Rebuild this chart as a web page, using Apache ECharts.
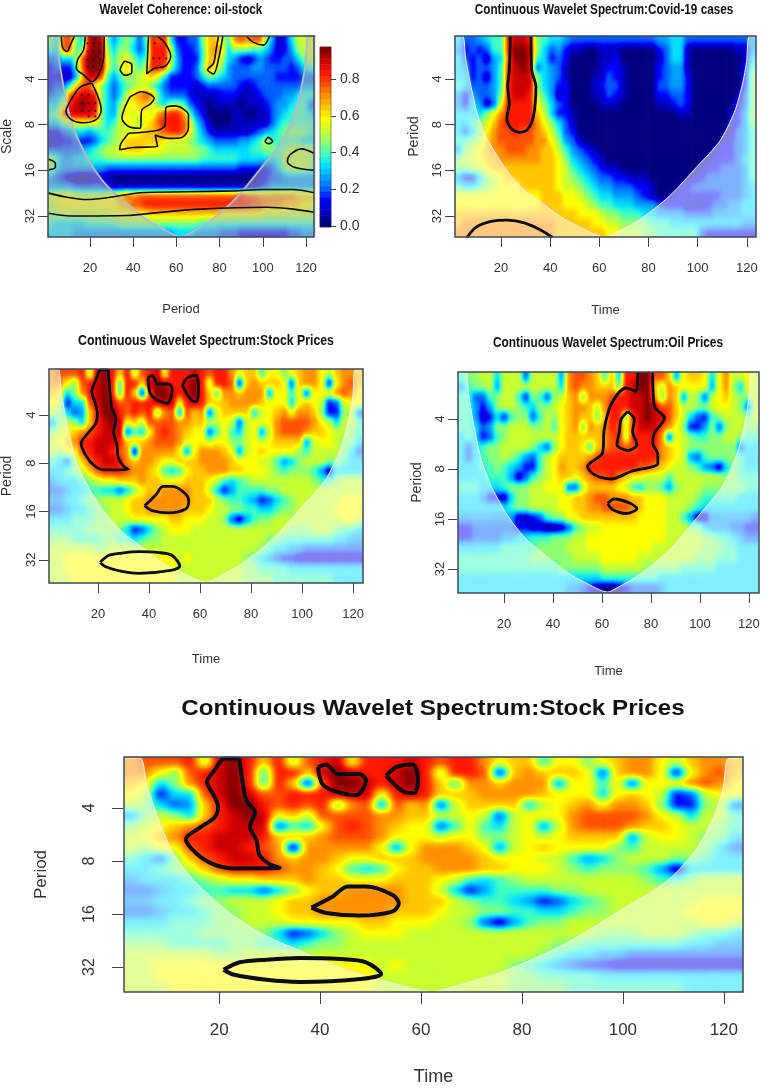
<!DOCTYPE html>
<html><head><meta charset="utf-8">
<style>html,body{margin:0;padding:0;background:#fff}#c{width:762px;height:1089px}</style>
<script src="https://cdn.jsdelivr.net/npm/echarts@6/dist/echarts.min.js"></script>
</head><body><div id="c"></div>
<svg width="0" height="0" style="position:absolute"><defs id="defs"></defs></svg>
<script>
// Heat levels: 0 (dark blue) .. f (dark red); 42 columns x 22 rows
const coherenceRows = [
"75cc75 efe646 7636dc d52233 7aa86b cbcc74 125888",
"65cc67 eff757 7535dd d83223 6aba57 776653 124788",
"34557c fff868 9756dd d84222 6aa854 212432 233578",
"23226c fff868 a868dd c74223 7b9743 334433 332356",
"22114a eec646 8789a8 522223 576543 333333 222233",
"2336ac c97535 678865 322221 233333 212333 333344",
"345cde ed7535 8abcb6 433321 111222 111233 344566",
"558def ee7547 99aa96 577632 101111 011123 445663",
"67ceee ed7548 98998b cddb63 200001 100113 456665",
"557899 997568 9979ac dddc95 310001 111113 566666",
"223455 456678 889aab cddc96 421111 112345 677776",
"112232 235678 aaaaaa 988876 543333 445686 666655",
"333334 567889 aaa999 888887 765555 556677 678888",
"864455 666777 777777 777777 666666 555555 688887",
"754444 444333 333333 333333 333333 222223 578887",
"432100 011100 000000 000000 000000 000123 344444",
"444433 333211 111111 111111 111111 111234 444444",
"899988 88899a cbcccc cccccc cccccc dccbbb bbbaaa",
"889999 99999a accddd dddddd dddddd ddccbb baaa99",
"788888 888899 9999aa aaaaaa aaa999 999988 888888",
"655555 666667 777777 777777 666666 666666 666666",
"555544 444444 444444 445554 444333 222222 223344"];
const covidRows = [
"533456 6deed7 655433 333333 333344 553333 333334",
"423236 6dffe7 534211 001110 000023 551000 000114",
"532314 5cffe6 523200 001120 000013 551000 000015",
"542334 6defe3 543100 001221 000023 441000 000026",
"552314 6deee7 543100 011321 000023 442000 000027",
"653334 6deee7 542200 012331 000033 442000 000027",
"424334 7deed8 641200 011321 000022 332000 000137",
"425413 9dddd9 753200 001110 000011 232000 000237",
"555579 bdddda 852210 000000 000000 011000 001247",
"55678a cddddb 975310 000000 000000 000000 001247",
"53579b ccdccb a86320 000000 000000 000000 001346",
"6678ab cccccb b97431 000000 000000 000000 012346",
"4789ab bcccbb aa8643 210000 000000 000000 122346",
"7889aa bbbbbb aa9754 321000 000000 000001 222356",
"77889a aaaaaa aa9865 432110 000000 000012 233346",
"422578 9aaaaa aa9876 543322 111000 000123 333346",
"655678 999aaa aa9887 654433 322100 012333 333345",
"999999 999999 aaa998 765544 432100 122222 233345",
"999999 999999 aaa999 876655 544432 221112 334455",
"aaaaaa aaaaaa aaaaa9 998776 665544 443333 444455",
"abbbbb bbbbbb bbaaaa a99887 777666 555555 555544",
"bbbbbb bbbbbb bbaaaa aaa998 887766 666632 222222"];
const stockRows = [
"bcccd8 efdad8 cde9dd dedcdd b9aa69 979abb 98abba",
"bb97cd efd6dd aefedd efd8dd c2abaa a93abb 929bca",
"a957bd efd6da 2cffed efda6b babbb4 996939 99bcb9",
"98255c efeccd ddeee9 dedaaa bbbba9 9959a9 823899",
"87534a dffdcd cd7bc4 cab38a aaa589 ab9bba 722783",
"47875a defe9a 8ccccb baa889 838999 bccccb 985886",
"789abc deee36 59cdcb a99369 658948 bcccba a98876",
"89abdd eeedaa abcccb 999899 778989 aaaa48 998775",
"8799cd eedcb1 bbbbb9 49bbba 9489a9 999768 888753",
"6537ac deedba bba99a aabbbb a99988 645788 877655",
"55678a cdddcb ba9656 9aabbb aa9998 767776 415555",
"455567 899aaa baa999 aaa986 567888 888887 667888",
"334556 655357 9aabbb baa852 466667 788888 888888",
"445567 78889a abbbbb baaa87 665423 567888 888999",
"334556 77889a abbbbb aaa988 776655 677888 889999",
"555666 778889 9999aa 999887 314677 888888 888998",
"666667 777752 357899 988888 888888 887778 887665",
"777666 677665 677888 888888 888887 766666 665544",
"888888 778888 888888 888888 888876 554433 333333",
"889999 999999 999998 988888 887654 322111 111111",
"889999 999999 999998 888888 887766 665555 555555",
"888999 999999 999998 888888 887777 666666 665555"];
const oilRows = [
"677885 888388 884bcc ba6a5d dffcca 49aa95 9b8898",
"467784 888888 885bcb baaa7d effa8b a99994 9b7598",
"663367 886276 378ab7 bbbcdd eefb7b a48738 9a8778",
"664247 887657 789abb a8bddd eefecc a88778 998738",
"664125 267736 879aba a7add7 defeec a85326 788878",
"665347 788877 869ab7 babdc9 ceeecb 972247 378877",
"565236 788888 889aaa aabcd8 ddddb3 987667 788766",
"535677 888875 379aa9 6abccc cdddba 987777 777355",
"535677 876436 89aaaa bcdddd ddddba 984367 777655",
"555667 654226 89baab dddddd dccba9 887643 157655",
"555566 641367 89aa9a bccdba 998886 888888 877666",
"666555 677788 999338 aaaa98 657764 788877 777766",
"555422 157788 8899aa bccbbb aa9998 888766 666555",
"555555 567788 8899aa bbcccc ba9998 887655 555555",
"444444 441123 67799a aaaaaa a99998 864114 444443",
"223333 332211 001367 889999 999998 887754 443322",
"223333 445566 677788 999999 999998 888877 665433",
"555555 666667 777888 999999 999888 888877 766555",
"666666 666677 777788 889999 988888 888777 666555",
"666666 666666 667777 778888 887777 766666 555555",
"555555 555555 555555 556666 666655 555555 555555",
"555555 555555 555443 210012 333345 555555 555555"];
const colorbarLevels = [15,14.5,14,13.5,13,12.5,12,11.5,11,10.5,10,9.5,9,8.5,8,7.5,7,6.5,6,5.5,5,4.5,4,3.5,3,2.5,2,1.5,1,0.5,0];
const jetColors = ['#00007f','#0000c0','#0000ff','#0060ff','#00a0ff','#00e0ff','#40ffc0','#90ff70','#c8ff30','#ffff00','#ffc800','#ff9000','#ff5000','#ff1800','#cc0000','#800000'];
const xTickValues = [20,40,60,80,100,120];
const yTickValues = [2,3,4,5];
const yTickLabels = ['4','8','16','32'];
const colorbarTicks = [0,0.2,0.4,0.6,0.8];
// cone of influence: [time, log2 period]
const coneLine = [[0.5,1.06],[4.4,1.06],[5.6,1.54],[7.6,2.11],[10.6,2.8],[14.9,3.36],[22.1,3.98],[29.4,4.42],[37.3,4.74],[45.2,5.05],[53.1,5.27],[62.3,5.46],[63.8,5.44],[76.4,5.08],[88.4,4.57],[99.7,3.92],[109,3.36],[114.9,2.73],[118.2,2.11],[119.9,1.61],[120.9,1.07],[124.5,1.06]];
// significance contours: [time, log2 period]
const coherenceContours = [
 [[6.7,1.07],[7.5,1.33],[9.4,1.4],[10.9,1.26],[12.8,1.07]],
 [[17.8,1.07],[17.1,1.36],[14.3,1.58],[13.7,1.77],[17.1,1.91],[20.9,2.06],[24,1.91],[26.3,1.55],[26.6,1.07]],
 [[20.9,2.09],[15.5,2.18],[12.1,2.39],[8.9,2.72],[11.7,2.9],[17.1,2.96],[23.2,2.88],[25.2,2.68],[24,2.42],[20.9,2.09]],
 [[35.9,1.61],[39.4,1.69],[39.4,1.86],[36.3,1.92],[34,1.8],[35.9,1.61]],
 [[47.1,1.07],[46.3,1.89],[49.7,1.77],[54.8,1.72],[57.4,1.51],[54.8,1.22],[51.3,1.07]],
 [[81.5,1.07],[79.5,1.57],[77.2,1.89],[74.4,1.8],[77.2,1.66],[78.4,1.36],[79.5,1.07]],
 [[92.6,1.07],[95.7,1.2],[100.3,1.26],[103.1,1.07]],
 [[38.6,2.39],[44,2.28],[49.7,2.42],[47.9,2.55],[44,2.68],[43.3,3.08],[37.9,3.04],[34.8,2.86],[36.3,2.61],[38.6,2.39]],
 [[37.9,3.19],[51,3.13],[54.8,3.01],[55.1,2.64],[59.4,2.59],[65.6,2.79],[65.6,3.08],[62.5,3.28],[56.4,3.3],[50.2,3.23],[51.3,3.48],[40.2,3.5],[33.7,3.55],[34.3,3.42],[37.9,3.19]],
 [[101,3.37],[102.6,3.28],[104.6,3.37],[102.6,3.42],[101,3.37]],
 [[0.9,3.76],[4,3.85],[4,3.94],[0.9,3.99]],
 [[123.7,3.63],[118,3.53],[112.6,3.66],[111.4,3.81],[114.9,3.94],[123.7,4]],
 [[0.9,4.5],[9.4,4.59],[18.6,4.64],[30.9,4.58],[43.3,4.49],[64.8,4.47],[86.4,4.45],[100.3,4.42],[114.1,4.42],[123.7,4.49]],
 [[0.9,4.94],[10.9,5],[37.1,4.99],[52.5,4.92],[71,4.85],[101.8,4.81],[114.1,4.85],[123.7,4.92]]];
const covidContours = [
 [[23.8,1.07],[23.4,1.8],[22.7,2.17],[23.4,2.53],[22.4,2.86],[24.1,3.08],[27.5,3.17],[30.9,3.1],[33.3,2.79],[34.2,2.17],[32.5,1.8],[32.2,1.07]],
 [[6.2,5.47],[9.8,5.25],[15.9,5.12],[22.7,5.09],[29.5,5.15],[36.3,5.31],[41,5.47]]];
const stockContours = [
 [[24,1.07],[21.1,1.07],[19.1,1.29],[17.6,1.51],[19.1,1.79],[19.8,1.98],[19.1,2.18],[16.2,2.37],[13.4,2.59],[15.5,2.86],[18.8,3.06],[22.8,3.14],[32,3.13],[30,3.06],[28,2.89],[27.4,2.61],[26.1,2.36],[27.1,2.08],[25.4,1.86],[24.4,1.36],[24,1.07]],
 [[39.6,1.23],[41.2,1.18],[43.5,1.36],[47.8,1.36],[49.1,1.48],[47.2,1.76],[42.5,1.67],[40.4,1.54],[39.6,1.23]],
 [[53.1,1.39],[55.1,1.23],[58.4,1.18],[59.4,1.48],[58.7,1.72],[56.7,1.7],[53.1,1.39]],
 [[38.3,3.88],[42.5,3.67],[45.5,3.48],[49.1,3.48],[54.4,3.64],[55.6,3.8],[54.4,3.95],[47.8,4.03],[41.2,3.98],[38.3,3.88]],
 [[20.9,5.05],[24.1,4.91],[29.4,4.86],[36,4.83],[43.9,4.85],[49.1,4.91],[52.1,5.13],[48.5,5.22],[36,5.28],[29.4,5.24],[22.8,5.14],[20.9,5.05]]];
const oilContours = [
 [[74.6,1.07],[73.9,1.45],[69.8,1.38],[63.7,1.71],[60.9,2.21],[60.2,2.68],[54.1,2.95],[56.8,3.11],[63.7,3.2],[71.8,3.05],[82.8,2.89],[82.8,2.71],[80.7,2.48],[81.4,2.28],[85.5,1.98],[81.4,1.75],[80.7,1.07]],
 [[70.5,1.85],[73.2,2.01],[72.5,2.25],[74.3,2.51],[70.5,2.63],[66.1,2.51],[67.1,2.25],[67.8,2.01],[70.5,1.85]],
 [[62.3,3.69],[65,3.6],[71.2,3.68],[74.3,3.79],[69.8,3.89],[64.3,3.81],[62.3,3.69]]];
const coherenceDots = [[18.9,1.22],[21.7,1.22],[24.5,1.22],[18.9,1.4],[21.7,1.4],[24.5,1.4],[18.9,1.58],[21.7,1.58],[24.5,1.58],[18.9,1.73],[21.7,1.73],[16.3,2.35],[19.4,2.35],[16.3,2.53],[19.4,2.53],[22.5,2.53],[16.3,2.7],[19.4,2.7],[22.5,2.7],[19.4,2.82],[22.5,2.82],[49.4,1.55],[52.2,1.55],[55.3,1.55],[50,1.22]];

const SANS = '"Liberation Sans",Arial,sans-serif';
const TOP = 2;
const panels = [
 {rows:coherenceRows,contours:coherenceContours,dots:coherenceDots,title:'Wavelet Coherence: oil-stock',titleX:181,titleY:10,xName:'Period',yName:'Scale',rect:[48,36,266,201],xr:[0.6,123.7],yr:[1.06,5.46],lw:1.6,mask:'rgba(185,185,185,0.5)',cone:'#b8b8c8',coneW:1.8,tick:10,tf:13,xm:25,ym:11,xg:66,yg:34,nf:13,yf:13,sx:0.78},
 {rows:covidRows,contours:covidContours,title:'Continuous Wavelet Spectrum:Covid-19 cases',titleX:604,titleY:10,xName:'Time',yName:'Period',rect:[455,36,301,201],xr:[1.3,123.7],yr:[1.06,5.46],lw:2.8,mask:'rgba(255,255,255,0.5)',cone:'#eeeeee',coneW:1,tick:10,tf:13,xm:25,ym:11,xg:67,yg:34,nf:13,yf:13,sx:0.78},
 {rows:stockRows,contours:stockContours,title:'Continuous Wavelet Spectrum:Stock Prices',titleX:206,titleY:341,xName:'Time',yName:'Period',rect:[49,369,314,214],xr:[0.8,123.9],yr:[1.05,5.48],lw:2.8,mask:'rgba(255,255,255,0.5)',cone:'#eeeeee',coneW:1,tick:10,tf:13,xm:25,ym:11,xg:70,yg:35,nf:13,yf:13,sx:0.82},
 {rows:oilRows,contours:oilContours,title:'Continuous Wavelet Spectrum:Oil Prices',titleX:608,titleY:343,xName:'Time',yName:'Period',rect:[458,372,301,221],xr:[1.2,124.1],yr:[1.06,5.48],lw:2.8,mask:'rgba(255,255,255,0.5)',cone:'#eeeeee',coneW:1,tick:10,tf:13,xm:25,ym:11,xg:72,yg:34,nf:13,yf:13,sx:0.79},
 {rows:stockRows,contours:stockContours,title:'Continuous Wavelet Spectrum:Stock Prices',titleX:433,titleY:709,xName:'Time',yName:'Period',rect:[124,757,619,235],xr:[1.15,123.8],yr:[1.04,5.47],lw:4,mask:'rgba(255,255,255,0.5)',cone:'#eeeeee',coneW:1,tick:12,tf:17,xm:30,ym:26,xg:76,yg:74,nf:18,yf:16,big:true,sx:1.1}
];

const grid=[],xAxis=[],yAxis=[],series=[],graphic=[],heatIdx=[];
const colPad=[...Array(44).keys()],rowPad=[...Array(24).keys()];
const AX='#444';
panels.forEach((p,i)=>{
  const [l,t,w,h]=p.rect, bw=w/42, bh=h/22;
  const heatLevel = p.big?1:0;
  // hidden grid one band larger on every side: holds the heat cells, trimmed back to the plot by the clip below
  const hg=grid.length;
  grid.push({left:l-bw,top:t-bh,width:w+2*bw,height:h+2*bh,show:false,outerBoundsMode:'none'});
  const fg=grid.length;
  grid.push({left:l,top:t,width:w,height:h,show:true,borderColor:'#3c4858',borderWidth:1.5,backgroundColor:'transparent',z:10,zlevel:TOP,outerBoundsMode:'none'});
  const xc=xAxis.length, yc=yAxis.length;
  xAxis.push({type:'category',gridIndex:hg,data:colPad,show:false});
  yAxis.push({type:'category',gridIndex:hg,data:rowPad,show:false,inverse:true});
  xAxis.push({type:'value',gridIndex:fg,zlevel:TOP,min:p.xr[0],max:p.xr[1],position:'bottom',splitLine:{show:false},axisLine:{show:false},
    axisTick:{show:true,length:p.tick,customValues:xTickValues,lineStyle:{color:AX,width:1}},
    axisLabel:{customValues:xTickValues,margin:p.xm,color:'#333',fontSize:p.tf,fontFamily:SANS,formatter:v=>String(v)},
    name:p.xName,nameLocation:'middle',nameGap:p.xg,nameTextStyle:{color:'#333',fontSize:p.nf,fontFamily:SANS}});
  yAxis.push({type:'value',gridIndex:fg,zlevel:TOP,min:p.yr[0],max:p.yr[1],inverse:true,position:'left',splitLine:{show:false},axisLine:{show:false},
    axisTick:{show:true,length:p.tick,customValues:yTickValues,lineStyle:{color:AX,width:1}},
    axisLabel:{customValues:yTickValues,rotate:90,margin:p.ym,color:'#333',fontSize:p.yf,fontFamily:SANS,formatter:v=>yTickLabels[yTickValues.indexOf(v)]},
    name:p.yName,nameLocation:'middle',nameGap:p.yg,nameRotate:90,nameTextStyle:{color:'#333',fontSize:p.yf+1,fontFamily:SANS}});
  const m=p.rows.map(r=>r.replace(/\s/g,'').split('').map(ch=>parseInt(ch,16)));
  const cells=[];
  rowPad.forEach(r=>colPad.forEach(c=>{
    const rr=Math.min(21,Math.max(0,r-1)), cc=Math.min(41,Math.max(0,c-1));
    cells.push([c,r,m[rr][cc]]);
  }));
  heatIdx.push(series.length);
  series.push({type:'heatmap',xAxisIndex:xc,yAxisIndex:yc,data:cells,z:2,zlevel:heatLevel,silent:true,progressive:0});
  series.push({type:'line',xAxisIndex:xc+1,yAxisIndex:yc+1,data:coneLine,symbol:'none',smooth:0.25,z:3,zlevel:TOP,silent:true,
    lineStyle:{color:p.cone,width:p.coneW},areaStyle:{color:p.mask,origin:'end',opacity:1}});
  p.contours.forEach(ct=>series.push({type:'line',xAxisIndex:xc+1,yAxisIndex:yc+1,data:ct,symbol:'none',smooth:0.3,z:4,zlevel:TOP,silent:true,lineStyle:{color:'#0c0c14',width:p.lw}}));
  if(p.dots) series.push({type:'scatter',xAxisIndex:xc+1,yAxisIndex:yc+1,data:p.dots,symbolSize:2.2,z:5,zlevel:TOP,silent:true,itemStyle:{color:'#111'}});
  graphic.push({type:'text',x:p.titleX,y:p.titleY,scaleX:p.sx,zlevel:TOP,silent:true,style:{text:p.title,x:0,y:0,align:'center',verticalAlign:'middle',textAlign:'center',textVerticalAlign:'middle',fill:'#111',font:`bold ${p.big?22:15}px ${SANS}`}});
});
// colour bar beside the first panel
const cbG=grid.length, cbX=xAxis.length, cbY=yAxis.length;
grid.push({left:320,top:47,width:11,height:180,show:true,borderColor:'#333',borderWidth:0.5,backgroundColor:'transparent',z:10,zlevel:TOP,outerBoundsMode:'none'});
xAxis.push({type:'category',gridIndex:cbG,data:[0],show:false});
yAxis.push({type:'category',gridIndex:cbG,data:colorbarLevels.map((_,i)=>i),show:false,inverse:true});
yAxis.push({type:'value',gridIndex:cbG,zlevel:TOP,min:-0.005,max:0.974,position:'right',splitLine:{show:false},axisLine:{show:false},
  axisTick:{show:true,length:5,customValues:colorbarTicks,lineStyle:{color:AX,width:1}},
  axisLabel:{customValues:colorbarTicks,margin:9,color:'#333',fontSize:14,fontFamily:SANS,formatter:v=>v.toFixed(1)}});
const cbIdx=series.length;
series.push({type:'heatmap',xAxisIndex:cbX,yAxisIndex:cbY,data:colorbarLevels.map((v,i)=>[0,i,v]),z:2,zlevel:TOP,silent:true});
series.push({type:'line',xAxisIndex:cbX,yAxisIndex:cbY+1,data:[],symbol:'none',zlevel:TOP});

// Heat layers are drawn as grey levels, smoothed in level space, then coloured through the jet table
const channel=(k)=>jetColors.map(c=>(parseInt(c.substr(1+2*k,2),16)/255).toFixed(3)).join(' ');
const table=`<feComponentTransfer><feFuncR type="table" tableValues="${channel(0)}"/><feFuncG type="table" tableValues="${channel(1)}"/><feFuncB type="table" tableValues="${channel(2)}"/></feComponentTransfer>`;
const mk=(id,sd)=>`<filter id="${id}" x="0" y="0" width="100%" height="100%" color-interpolation-filters="sRGB"><feGaussianBlur stdDeviation="${sd}" edgeMode="duplicate"/>${table}</filter>`;
document.getElementById('defs').innerHTML=mk('smallHeat','2.2 3')+mk('bigHeat','5 3.6');
const clip=ps=>ps.map(p=>`M${p.rect[0]} ${p.rect[1]}h${p.rect[2]}v${p.rect[3]}h${-p.rect[2]}Z`).join('');
const css=document.createElement('style');
css.textContent=`canvas[data-zr-dom-id="zr_0"]{filter:url(#smallHeat);clip-path:path('${clip(panels.slice(0,4))}')}
canvas[data-zr-dom-id="zr_1"]{filter:url(#bigHeat);clip-path:path('${clip(panels.slice(4))}')}`;
document.head.appendChild(css);

const chart=echarts.init(document.getElementById('c'),null,{renderer:'canvas',devicePixelRatio:1});
chart.setOption({animation:false,title:[],grid,xAxis,yAxis,series,graphic,tooltip:{show:false},
  visualMap:[
   {type:'continuous',show:false,min:0,max:15,dimension:2,seriesIndex:heatIdx,inRange:{color:['#000000','#ffffff']}},
   {type:'continuous',show:false,min:0,max:15,dimension:2,seriesIndex:[cbIdx],inRange:{color:jetColors}}]});
</script></body></html>
